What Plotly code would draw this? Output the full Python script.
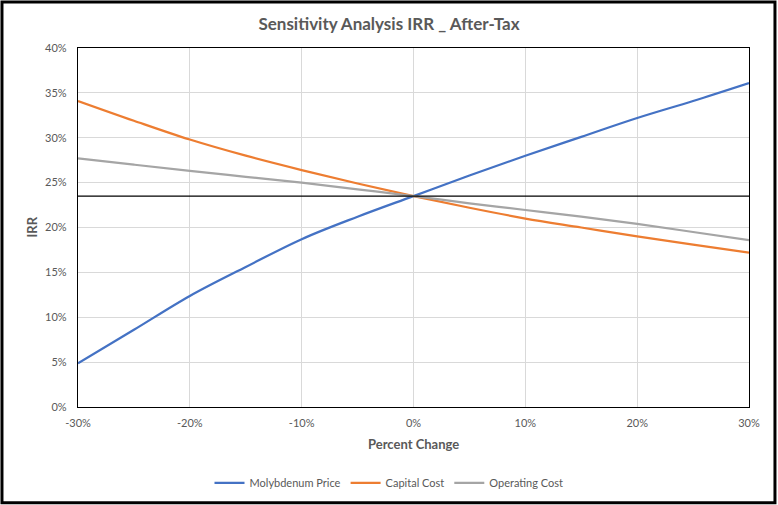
import plotly.graph_objs as go

# ---------------------------------------------- DATA ----------------------------------------------
pct_change = [-0.30, -0.25, -0.20, -0.15, -0.10, -0.05, 0.0, 0.05, 0.10, 0.15, 0.20, 0.25, 0.30]

moly_price = [0.0487, 0.086, 0.1237, 0.156, 0.187, 0.212, 0.235, 0.258, 0.280, 0.301, 0.322, 0.341, 0.361]
capital_cost = [0.341, 0.319, 0.298, 0.280, 0.264, 0.249, 0.235, 0.222, 0.210, 0.200, 0.190, 0.181, 0.172]
operating_cost = [0.277, 0.270, 0.263, 0.2565, 0.250, 0.2425, 0.235, 0.227, 0.2195, 0.212, 0.204, 0.195, 0.186]

base_irr = 0.235

series_names = ["Molybdenum Price", "Capital Cost", "Operating Cost"]
series_colors = ["#4472C4", "#ED7D31", "#A5A5A5"]

x_ticks = [-0.30, -0.20, -0.10, 0.0, 0.10, 0.20, 0.30]
x_labels = ["-30%", "-20%", "-10%", "0%", "10%", "20%", "30%"]
y_ticks = [0, 0.05, 0.10, 0.15, 0.20, 0.25, 0.30, 0.35, 0.40]
y_labels = ["0%", "5%", "10%", "15%", "20%", "25%", "30%", "35%", "40%"]

# ---------------------------------------------- FIGURE --------------------------------------------
fig = go.Figure()

for name, vals, col in zip(series_names, [moly_price, capital_cost, operating_cost], series_colors):
    fig.add_trace(go.Scatter(x=pct_change, y=vals, name=name, mode="lines",
                             line=dict(color=col, width=2.25, shape="spline", smoothing=1.0)))

# base case line
fig.add_trace(go.Scatter(x=[pct_change[0], pct_change[-1]], y=[base_irr, base_irr], mode="lines",
                         line=dict(color="black", width=1.2), showlegend=False, hoverinfo="skip"))

font_col = "#595959"
fnt = "Lato, 'Open Sans', sans-serif"

fig.update_layout(
    width=778, height=505,
    margin={"l": 78, "r": 29, "t": 48, "b": 98, "autoexpand": False},
    paper_bgcolor="white", plot_bgcolor="white",
    font=dict(family=fnt, size=11, color=font_col),
    showlegend=True,
    legend=dict(orientation="h", xref="container", x=0.5, xanchor="center",
                yref="container", y=0.0436, yanchor="middle",
                font=dict(size=11, color=font_col), traceorder="normal", itemwidth=30),
    title=dict(text="<b>Sensitivity Analysis IRR _ After-Tax</b>", x=0.5, xanchor="center",
               y=0.952, yanchor="middle", font=dict(size=17, color=font_col)),
)

fig.update_xaxes(range=[-0.30, 0.30], tickvals=x_ticks, ticktext=x_labels,
                 showgrid=True, gridcolor="#D9D9D9", gridwidth=1,
                 showline=True, linecolor="black", linewidth=1.2, mirror=True,
                 zeroline=False, ticks="", ticklabelstandoff=6,
                 tickfont=dict(size=11, color=font_col))
fig.update_yaxes(range=[0, 0.40], tickvals=y_ticks, ticktext=y_labels,
                 showgrid=True, gridcolor="#D9D9D9", gridwidth=1,
                 showline=True, linecolor="black", linewidth=1.2, mirror=True,
                 zeroline=False, ticks="", ticklabelstandoff=8,
                 tickfont=dict(size=11, color=font_col))

# axis titles
fig.add_annotation(text="<b>Percent Change</b>", xref="paper", yref="paper", x=0.5, y=-0.103,
                   showarrow=False, font=dict(size=13, color=font_col), yanchor="middle")
fig.add_annotation(text="<b>IRR</b>", xref="paper", yref="paper", x=-0.07, y=0.5, textangle=-90,
                   showarrow=False, font=dict(size=13, color=font_col), xanchor="center")

# outer frame
fig.add_shape(type="rect", xref="paper", yref="paper", x0=-0.1133, x1=1.0387, y0=-0.267, y1=1.128,
              line=dict(color="black", width=3), fillcolor="rgba(0,0,0,0)", layer="above")

fig.write_html("out.html", config={"displayModeBar": False},
               post_script="document.body.style.margin='0';")
